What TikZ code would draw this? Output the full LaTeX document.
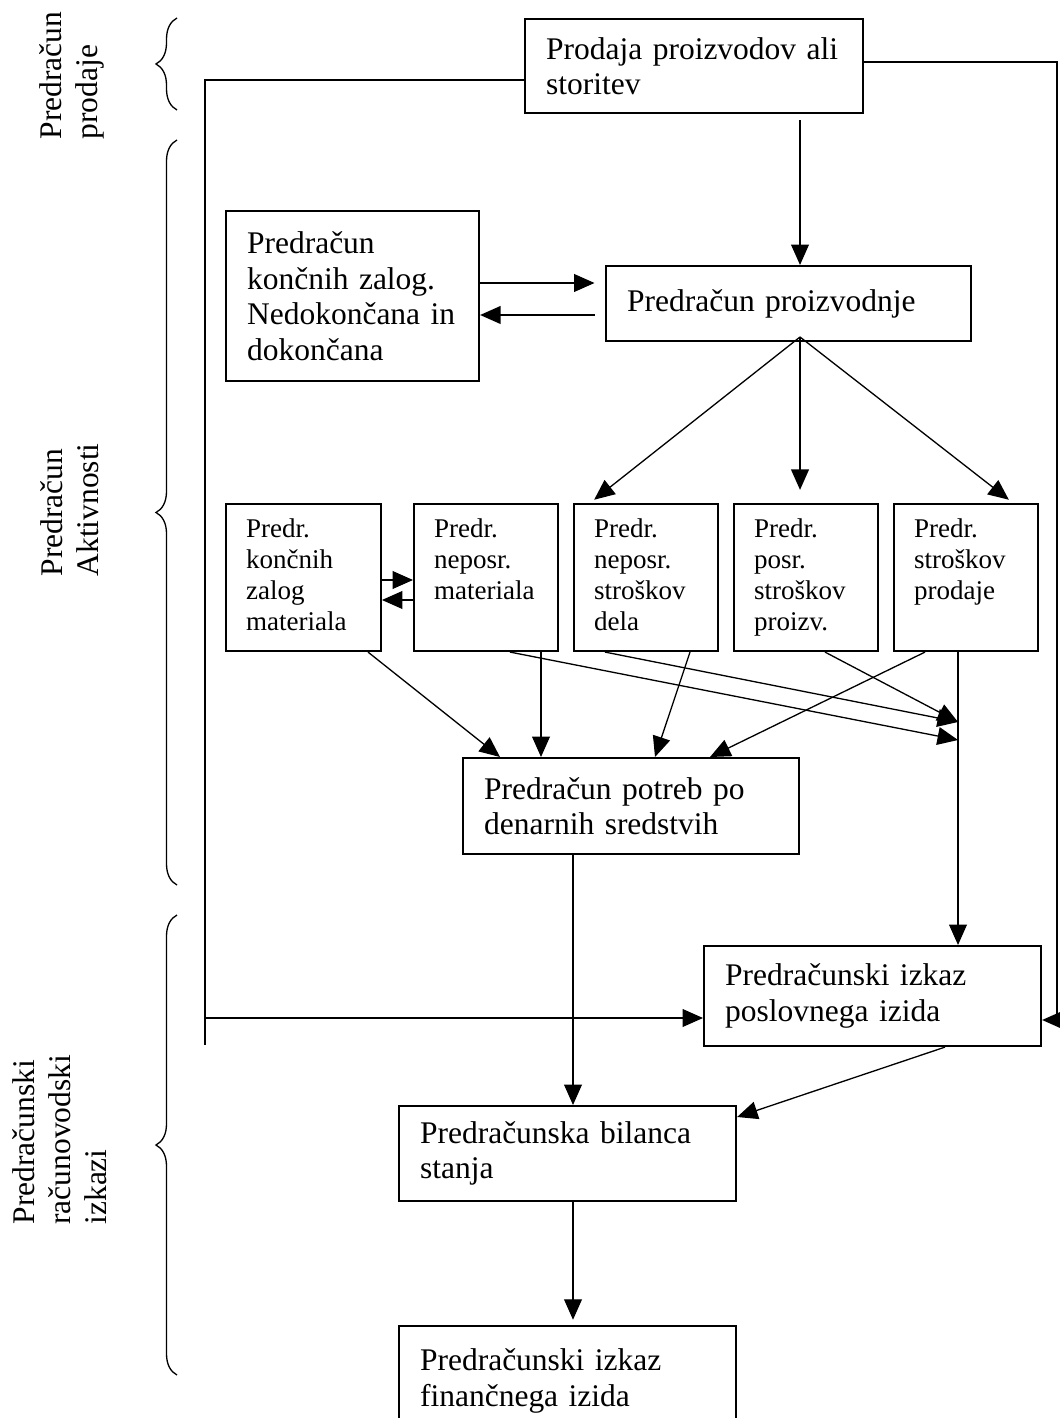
\documentclass[tikz,border=0pt]{standalone}
\usepackage{fontspec}
\setmainfont{Liberation Serif}
\usetikzlibrary{arrows.meta,decorations.pathreplacing}

\begin{document}
\begin{tikzpicture}[x=0.381pt, y=-0.381pt, % one unit is one pixel of the page, y runs downwards
    box/.style={draw, line width=0.8pt, anchor=north west, align=left, inner xsep=8pt, inner ysep=0pt,
                font=\fontsize{12}{13.5}\selectfont},
    smallbox/.style={draw, line width=0.8pt, anchor=north west, align=left, inner xsep=7.6pt, inner ysep=0pt,
                     minimum height=56pt, text width=39.7pt, font=\fontsize{10.3}{11.8}\selectfont,
                     execute at begin node=\strut, execute at end node=\strut},
    arr/.style={-{Triangle[length=7.8pt,width=6.8pt]}, line width=0.5pt},
    line/.style={line width=0.5pt},
    bracket/.style={decorate, decoration={brace, amplitude=8pt}, line width=0.5pt},
    side/.style={rotate=90, anchor=west, align=left, inner sep=0pt, font=\fontsize{12}{13.7}\selectfont}]

            % Page size
            \useasboundingbox (0,0) rectangle (1059,1418);

            % Labels and braces on the left
            \node[side] (lprod) at (72,140) {Predračun\\prodaje};
            \node[side] (lakt) at (70,577) {Predračun\\Aktivnosti};
            \node[side] (lizk) at (60,1225) {Predračunski\\računovodski\\izkazi};
            \draw[bracket] (177,110) -- (177,18);
            \draw[bracket] (177,885) -- (177,140);
            \draw[bracket] (177,1375) -- (177,915);

            % Main boxes
            \node[box, minimum height=35.8pt, text width=112.8pt] (prodaja) at (524,18) {Prodaja proizvodov ali\\storitev};
            \node[box, minimum height=64.8pt, text width=80.4pt] (zaloge) at (225,210) {Predračun\\končnih zalog.\\Nedokončana in\\dokončana};
            \node[box, minimum height=28.6pt, text width=123.1pt] (proizv) at (605,265) {Predračun proizvodnje};
            \node[box, minimum height=36.6pt, text width=112pt] (denar) at (462,757) {Predračun potreb po\\denarnih sredstvih};
            \node[box, minimum height=38.1pt, text width=112.4pt] (poslov) at (703,945) {Predračunski izkaz\\poslovnega izida};
            \node[box, minimum height=36.2pt, text width=112.4pt] (bilanca) at (398,1105) {Predračunska bilanca\\stanja};
            \node[box, minimum height=41.9pt, text width=112.4pt] (financ) at (398,1325) {Predračunski izkaz\\finančnega izida};

            % Row of small boxes
            \node[smallbox, text width=43.8pt] (b1) at (225,503) {Predr.\\končnih\\zalog\\materiala};
            \foreach \x/\nm/\txt in {413/b2/{Predr.\\neposr.\\materiala\\\mbox{}}, 573/b3/{Predr.\\neposr.\\stroškov\\dela},
                                     733/b4/{Predr.\\posr.\\stroškov\\proizv.}, 893/b5/{Predr.\\stroškov\\prodaje\\\mbox{}}} {
                    \node[smallbox] (\nm) at (\x,503) {\txt};
                }

            % Points where lines meet
            \coordinate (lbus) at (205,1045);
            \coordinate (rbus) at (1057,1020);
            \coordinate (apex) at (800,337);
            \coordinate (hitA) at (958,722);
            \coordinate (hitB) at (958,740);

            % Outer lines from the sales box
            \draw[line] (prodaja.west |- 0,80) -| (lbus);
            \draw[arr] (lbus |- 0,1018) -- (poslov.west |- 0,1018);
            \draw[arr] (prodaja.east |- 0,62) -| (rbus) -- (poslov.east |- rbus);

            % Upper part
            \draw[arr, shorten <=2.3pt] (prodaja.south -| apex) -- (proizv.north -| apex);
            \draw[arr, shorten >=4pt] (zaloge.east |- 0,283) -- (proizv.west |- 0,283);
            \draw[arr, shorten <=4pt] (proizv.west |- 0,315) -- (zaloge.east |- 0,315);
            \draw[arr, shorten >=2pt] (apex) -- (b3.north -| 590,0);
            \draw[arr, shorten >=5pt] (apex) -- (b4.north -| apex);
            \draw[arr, shorten >=2pt] (apex) -- (b5.north -| 1013,0);
            \draw[arr] (b1.east |- 0,580) -- (b2.west |- 0,580);
            \draw[arr] (b2.west |- 0,600) -- (b1.east |- 0,600);

            % Into the cash box
            \draw[arr] (b1.south -| 368,0) -- (denar.north -| 500,0);
            \draw[arr] (b2.south -| 541,0) -- (denar.north -| 541,0);
            \draw[arr] (b3.south -| 690,0) -- (denar.north -| 655,0);
            \draw[arr] (b5.south -| 925,0) -- (denar.north -| 710,0);

            % Towards the income statement
            \draw[arr] (b2.south -| 510,0) -- (hitB);
            \draw[arr] (b3.south -| 605,0) -- (hitA);
            \draw[arr] (b4.south -| 825,0) -- (hitA);
            \draw[arr] (b5.south -| hitA) -- (poslov.north -| hitA);

            % Lower part
            \draw[arr] (denar.south -| 573,0) -- (bilanca.north -| 573,0);
            \draw[arr] (poslov.south -| 945,0) -- (bilanca.east |- 0,1117);
            \draw[arr, shorten >=2pt] (bilanca.south -| 573,0) -- (financ.north -| 573,0);

        \end{tikzpicture}
\end{document}
